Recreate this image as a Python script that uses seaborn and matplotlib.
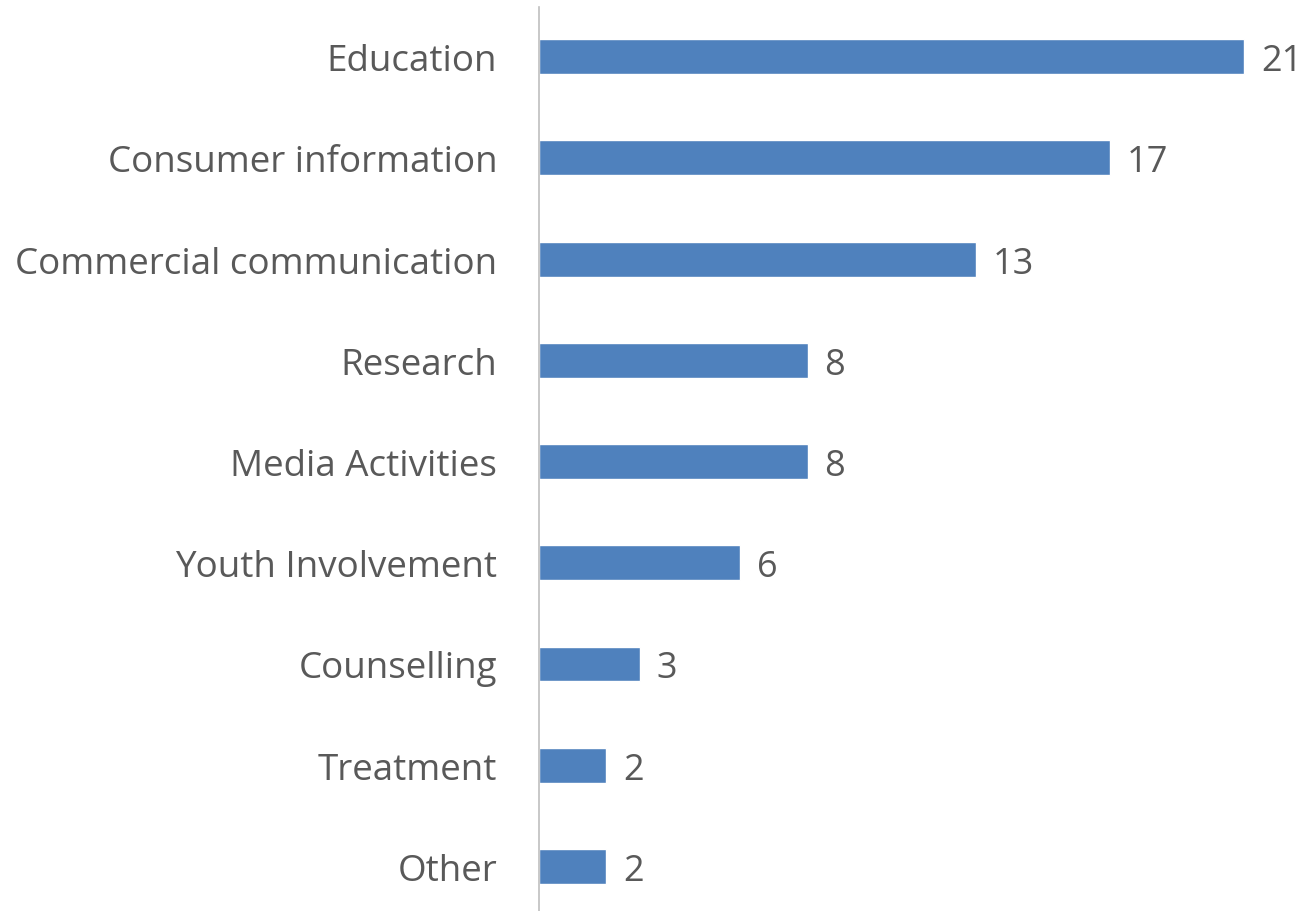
import matplotlib
matplotlib.use("Agg")
import matplotlib.pyplot as plt
import seaborn as sns
import pandas as pd

categories = ["Education", "Consumer information", "Commercial communication",
              "Research", "Media Activities", "Youth Involvement",
              "Counselling", "Treatment", "Other"]
counts = [21, 17, 13, 8, 8, 6, 3, 2, 2]

df = pd.DataFrame({"category": categories, "count": counts})

sns.set_style("white")
plt.rcParams["font.family"] = ["Open Sans", "DejaVu Sans"]

fig = plt.figure(figsize=(13.08, 9.12), dpi=100)
ax = fig.add_axes([539 / 1308, 0, 769 / 1308, 904 / 912])

sns.barplot(data=df, x="count", y="category", color="#4F81BD",
            saturation=1, width=0.345, ax=ax)

for i, v in enumerate(counts):
    ax.text(v + 0.5, i, str(v), va="center_baseline", ha="left",
            fontsize=26, color="#595959")

ax.set_xlim(0, 22.9)
ax.set_ylim(8.44, -0.49)
ax.set_xlabel("")
ax.set_ylabel("")
ax.set_xticks([])
ax.tick_params(axis="y", length=0, pad=30, labelsize=26.5, labelcolor="#595959")
for lbl in ax.get_yticklabels():
    lbl.set_verticalalignment("center_baseline")
for s in ["top", "right", "bottom"]:
    ax.spines[s].set_visible(False)
ax.spines["left"].set_color("#BFBFBF")
ax.spines["left"].set_linewidth(1.2)

fig.savefig("out.png", dpi=100)
